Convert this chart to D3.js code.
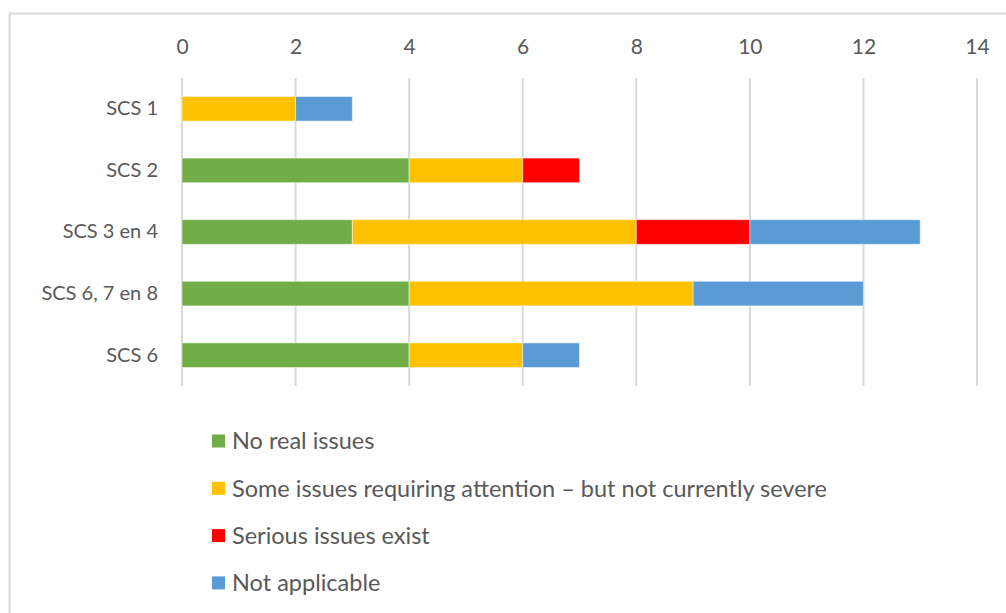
<!DOCTYPE html>
<html>
<head>
<meta charset="utf-8">
<script src="https://cdn.jsdelivr.net/npm/d3@7"></script>
<style>
  body { margin: 0; background: #fff; }
  text { font-family: Lato, "Open Sans", sans-serif; fill: #595959; }
</style>
</head>
<body>
<div id="chart"></div>
<script>
const categories = ["SCS 1", "SCS 2", "SCS 3 en 4", "SCS 6, 7 en 8", "SCS 6"];
const seriesNames = ["No real issues", "Some issues requiring attention \u2013 but not currently severe", "Serious issues exist", "Not applicable"];
const noRealIssues = [0, 4, 3, 4, 4];
const someIssues = [2, 2, 5, 5, 2];
const seriousIssues = [0, 1, 2, 0, 0];
const notApplicable = [1, 0, 3, 3, 1];
const tickValues = [0, 2, 4, 6, 8, 10, 12, 14];
const colors = ["#70AD47", "#FFC000", "#FF0000", "#5B9BD5"];

const width = 1006, height = 613;

// build rows for d3.stack
const keys = ["a", "b", "c", "d"];
const rows = categories.map((c, i) => ({
  cat: c, a: noRealIssues[i], b: someIssues[i], c: seriousIssues[i], d: notApplicable[i]
}));

const svg = d3.select("#chart").append("svg")
  .attr("width", width)
  .attr("height", height);

// chart border (right and bottom are cut off in the original)
svg.append("rect")
  .attr("x", 9.5).attr("y", 13.5)
  .attr("width", 1100).attr("height", 700)
  .attr("fill", "none")
  .attr("stroke", "#d9d9d9")
  .attr("stroke-width", 2);

const x = d3.scaleLinear().domain([0, 14]).range([182, 977]);
const y = d3.scaleBand().domain(categories).range([78, 386])
  .paddingInner(0.6).paddingOuter(0.3);

// gridlines
svg.append("g")
  .selectAll("line")
  .data(tickValues)
  .join("line")
  .attr("x1", d => x(d)).attr("x2", d => x(d))
  .attr("y1", 78).attr("y2", 386)
  .attr("stroke", "#d9d9d9")
  .attr("stroke-width", 2);

// top axis labels
const xAxis = svg.append("g")
  .attr("transform", "translate(0,54)")
  .call(d3.axisTop(x).tickValues(tickValues).tickSize(0).tickPadding(0));
xAxis.select(".domain").remove();
xAxis.selectAll("text")
  .attr("font-size", 21)
  .style("font-family", "Lato, sans-serif")
  .attr("fill", "#595959");

// category labels
const yAxis = svg.append("g")
  .attr("transform", "translate(158,0)")
  .call(d3.axisLeft(y).tickSize(0).tickPadding(0));
yAxis.select(".domain").remove();
yAxis.selectAll("text")
  .attr("font-size", 20)
  .style("font-family", "Lato, sans-serif")
  .attr("fill", "#595959");

const stack = d3.stack().keys(keys);
const layers = stack(rows);

svg.append("g")
  .selectAll("g")
  .data(layers)
  .join("g")
  .attr("fill", (d, i) => colors[i])
  .selectAll("rect")
  .data(d => d.filter(s => s[1] - s[0] > 0))
  .join("rect")
  .attr("x", d => x(d[0]))
  .attr("width", d => x(d[1]) - x(d[0]))
  .attr("y", d => y(d.data.cat))
  .attr("height", y.bandwidth())
  .attr("stroke", "#ffffff")
  .attr("stroke-opacity", 0.5)
  .attr("stroke-width", 1);

// legend
const legend = svg.append("g")
  .selectAll("g")
  .data(seriesNames)
  .join("g")
  .attr("transform", (d, i) => `translate(212, ${441 + i * 47.3})`);

legend.append("rect")
  .attr("x", 0).attr("y", -6.5)
  .attr("width", 13).attr("height", 13)
  .attr("fill", (d, i) => colors[i]);

legend.append("text")
  .attr("x", 20)
  .attr("dy", "0.35em")
  .attr("font-size", 23.5)
  .text(d => d);
</script>
</body>
</html>
